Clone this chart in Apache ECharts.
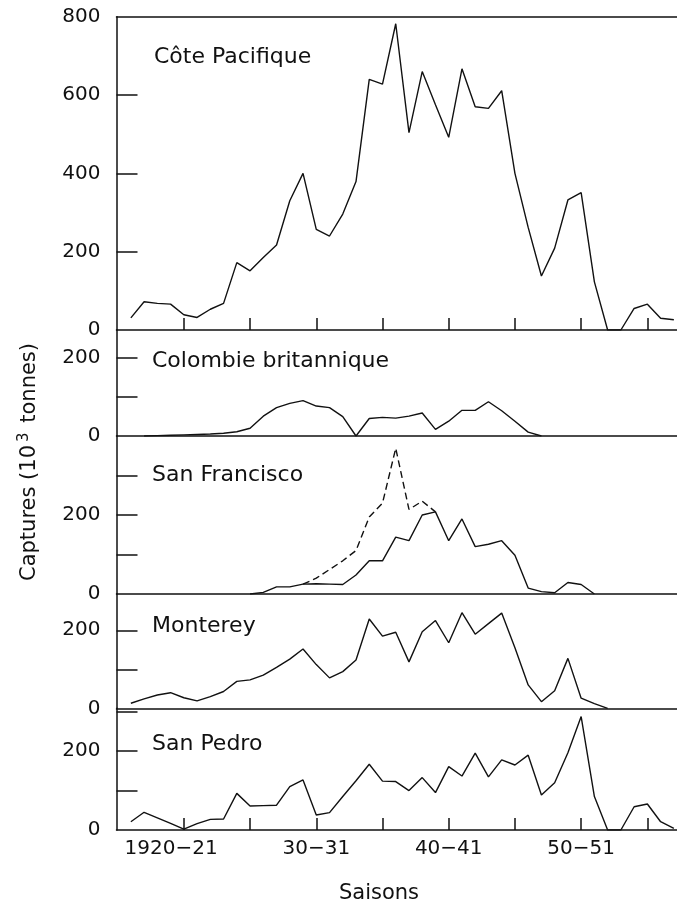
<!DOCTYPE html>
<html><head><meta charset="utf-8">
<script src="https://cdn.jsdelivr.net/npm/echarts@6/dist/echarts.min.js"></script>
<style>html,body{margin:0;padding:0;background:#fff}#c{width:677px;height:912px}</style>
</head><body><div id="c"></div>
<script>
// ---- data (captures, 10^3 tonnes; season start years) ----
const seasons = [1916,1917,1918,1919,1920,1921,1922,1923,1924,1925,1926,1927,1928,1929,1930,1931,1932,1933,1934,1935,1936,1937,1938,1939,1940,1941,1942,1943,1944,1945,1946,1947,1948,1949,1950,1951,1952,1953,1954,1955,1956,1957];
const cotePacifique = [31,72,68,66,39,32,53,68,172,151,185,217,330,400,257,240,296,379,640,628,782,504,660,575,492,667,570,566,611,400,262,138,209,332,351,123,0,0,55,66,30,26];
const colombieBritannique = [null,0,1,2,3,4,5,7,11,20,51,73,84,91,77,73,50,0,45,48,46,51,59,17,38,66,66,88,65,38,10,0,null,null,null,null,null,null,null,null,null,null];
const sanFrancisco = [null,null,null,null,null,null,null,null,null,0,4,18,18,25,26,25,24,48,84,84,144,135,200,208,135,190,120,126,135,98,15,6,3,29,24,0,null,null,null,null,null,null];
const sanFranciscoTirets = [null,null,null,null,null,null,null,null,null,null,null,null,null,25,40,62,84,110,195,230,369,214,235,208,null,null,null,null,null,null,null,null,null,null,null,null,null,null,null,null,null,null];
const monterey = [13,24,34,40,27,19,30,43,69,73,85,105,126,152,112,78,94,124,229,185,195,119,196,225,168,245,190,217,244,155,60,17,45,128,26,12,0,null,null,null,null,null];
const sanPedro = [21,45,31,17,2,16,27,28,93,61,62,63,110,127,38,44,85,125,167,124,123,100,133,95,161,137,195,135,178,165,190,89,120,196,288,85,0,0,59,66,21,4];
const panelNames = ['Côte Pacifique','Colombie britannique','San Francisco','Monterey','San Pedro'];
const panelMax = [800, 272.5, 400, 293, 309];
const yTicksTop = [200,400,600];
const yLabelsTop = [0,200,400,600,800];
const yTicksLow = [100,200,300];
const yLabelsLow = [0,200];
const xTicks = [1920,1925,1930,1935,1940,1945,1950,1955];
const xLabels = [1920,1930,1940,1950];
const xMin = 1914.916, xMax = 1957.237;

// ---- layout ----
const FONT = '"DejaVu Sans", sans-serif';
const INK = '#111';
const L = 116.5;
const panels = [
  {top: 16.7, height: 313.3},
  {top: 330, height: 106},
  {top: 436, height: 158},
  {top: 594, height: 114.3},
  {top: 708.3, height: 121.7}
];
const labelPos = [[154,56.8],[152,361.7],[152,475],[152,626.7],[152,744.2]];

const chart = echarts.init(document.getElementById('c'), null, {renderer:'canvas'});
const lineAxis = {show:true, lineStyle:{color:INK, width:1.5}};

const grid = panels.map(p => ({left:L, right:0, top:p.top, height:p.height}));
const xAxis = panels.map((p,i) => ({
  type:'value', gridIndex:i, min:xMin, max:xMax,
  axisLine: lineAxis,
  axisTick: {show: i===0 || i===4, inside:true, length:12, customValues:xTicks, lineStyle:{color:INK,width:1.5}},
  axisLabel: {show: i===4, customValues:xLabels, margin:9, color:INK, fontSize:20, fontFamily:FONT,
    formatter: v => v===1920 ? '1920−21\u00a0\u00a0\u00a0\u00a0' : (String(v%100)+'−'+String((v+1)%100))},
  splitLine:{show:false}
}));
// top border of the first panel
xAxis.push({type:'value', gridIndex:0, position:'top', min:xMin, max:xMax,
  axisLine: lineAxis, axisTick:{show:false}, axisLabel:{show:false}, splitLine:{show:false}});

const yAxis = panels.map((p,i) => ({
  type:'value', gridIndex:i, min:0, max:panelMax[i],
  axisLine: lineAxis,
  axisTick: {show:true, inside:true, length:21,
    customValues: (i===0 ? yTicksTop : yTicksLow).filter(v => v < panelMax[i]),
    lineStyle:{color:INK,width:1.5}},
  axisLabel: {show:true, customValues: i===0 ? yLabelsTop : yLabelsLow, margin:16,
    color:INK, fontSize:20, fontFamily:FONT},
  splitLine:{show:false}
}));

const pairs = arr => seasons.map((s,k) => [s, arr[k]]);
const mk = (arr, i, dashed) => ({
  type:'line', xAxisIndex:i, yAxisIndex:i, data:pairs(arr), symbol:'none',
  connectNulls:false, silent:true,
  lineStyle:{color:INK, width:1.4, type: dashed ? [7,4] : 'solid'}
});
const series = [
  mk(cotePacifique,0), mk(colombieBritannique,1), mk(sanFranciscoTirets,2,true),
  mk(sanFrancisco,2), mk(monterey,3), mk(sanPedro,4)
];

const graphic = panelNames.map((t,i) => ({
  type:'text', x:labelPos[i][0], y:labelPos[i][1],
  style:{text:t, font:'22px '+FONT, fill:INK, align:'left', verticalAlign:'middle',
    textAlign:'left', textVerticalAlign:'middle'}
}));
graphic.push({type:'text', x:379, y:894,
  style:{text:'Saisons', font:'21px '+FONT, fill:INK, align:'center', verticalAlign:'middle',
    textAlign:'center', textVerticalAlign:'middle'}});
graphic.push({type:'text', x:30, y:462, rotation:Math.PI/2,
  style:{text:'{a|Captures (10}{s|3}{a| tonnes)}', align:'center', verticalAlign:'middle',
    textAlign:'center', textVerticalAlign:'middle',
    rich:{a:{font:'21px '+FONT, fill:INK, color:INK},
          s:{font:'15px '+FONT, fill:INK, color:INK, padding:[0,3,12,3]}}}});

chart.setOption({
  animation:false, backgroundColor:'#fff',
  grid, xAxis, yAxis, series, graphic
});
</script></body></html>
